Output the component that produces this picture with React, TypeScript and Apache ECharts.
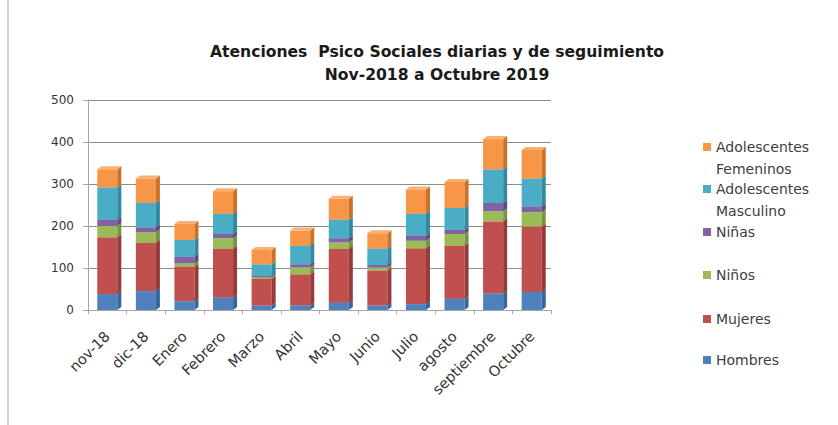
import React, { useEffect, useRef } from "react";
import * as echarts from "echarts";

const categories = ["nov-18", "dic-18", "Enero", "Febrero", "Marzo", "Abril", "Mayo", "Junio", "Julio", "agosto", "septiembre", "Octubre"];
const hombres = [38, 45, 21, 30, 11, 11, 17, 11, 14, 27, 39, 43];
const mujeres = [135, 115, 82, 116, 63, 74, 129, 83, 133, 126, 172, 156];
const ninos = [27, 25, 8, 25, 4, 16, 15, 7, 18, 28, 24, 34];
const ninas = [15, 12, 16, 10, 3, 8, 10, 6, 12, 10, 20, 14];
const adolMasc = [77, 58, 40, 48, 28, 44, 44, 39, 52, 52, 80, 66];
const adolFem = [43, 58, 38, 54, 34, 36, 50, 37, 58, 62, 72, 68];
const yTicks = [0, 100, 200, 300, 400, 500];

const seriesDefs = [
  { name: "Hombres", data: hombres, color: "#4F81BD", side: "#37659c", top: "#6f9ad0" },
  { name: "Mujeres", data: mujeres, color: "#C0504D", side: "#963b39", top: "#d2716e" },
  { name: "Niños", data: ninos, color: "#9BBB59", side: "#779442", top: "#b2cd7b" },
  { name: "Niñas", data: ninas, color: "#8064A2", side: "#5f4a7c", top: "#9a82b8" },
  { name: "Adolescentes Masculino", data: adolMasc, color: "#4BACC6", side: "#318aa2", top: "#73c2d7" },
  { name: "Adolescentes Femeninos", data: adolFem, color: "#F79646", side: "#c97228", top: "#f9b173" },
];

const FONT = "'DejaVu Sans', 'Open Sans', sans-serif";

export default function App() {
  const ref = useRef<HTMLDivElement>(null);
  useEffect(() => {
    document.body.style.margin = "0";
    const chart = echarts.init(ref.current!, null, { renderer: "svg" });
    const dx = 4;
    const dy = 3;
    const series = seriesDefs.map((s, k) => ({
      type: "custom",
      name: s.name,
      itemStyle: { color: s.color },
      encode: { x: 0, y: 1 },
      data: s.data.map((v, i) => [i, v]),
      renderItem: (params: any, api: any) => {
        const i = api.value(0);
        const v = api.value(1);
        let base = 0;
        for (let j = 0; j < k; j++) base += seriesDefs[j].data[i];
        const p0 = api.coord([i, base]);
        const p1 = api.coord([i, base + v]);
        const w = api.size([1, 0])[0] * 0.52;
        const x0 = p0[0] - w / 2;
        const x1 = x0 + w;
        const yb = p0[1];
        const yt = p1[1];
        return {
          type: "group",
          children: [
            { type: "rect", shape: { x: x0, y: yt, width: w, height: yb - yt }, style: { fill: s.color } },
            { type: "polygon", shape: { points: [[x1, yb], [x1, yt], [x1 + dx, yt - dy], [x1 + dx, yb - dy]] }, style: { fill: s.side } },
            { type: "polygon", shape: { points: [[x0, yt], [x1, yt], [x1 + dx, yt - dy], [x0 + dx, yt - dy]] }, style: { fill: s.top } },
          ],
        };
      },
    }));

    const legendTops = [147, 189, 232, 275, 319, 360];
    const legendOrder = [...seriesDefs].reverse();
    const LH = 22;
    const legends = legendOrder.map((s, idx) => {
      const twoLine = s.name.startsWith("Adolescentes");
      return {
        data: [s.name],
        orient: "vertical",
        left: 703,
        top: twoLine ? legendTops[idx] - 1.5 * LH : legendTops[idx] - LH / 2,
        itemWidth: 8,
        itemHeight: 8,
        icon: "rect",
        selectedMode: false,
        padding: 0,
        formatter: (n: string) => (n.indexOf(" ") > 0 ? "\n" + n.replace(" ", "\n") : n),
        textStyle: {
          fontFamily: FONT,
          fontSize: 14,
          color: "#404040",
          lineHeight: LH,
        },
      };
    });

    chart.setOption({
      animation: false,
      backgroundColor: "#ffffff",
      title: {
        text: "Atenciones  Psico Sociales diarias y de seguimiento\nNov-2018 a Octubre 2019",
        left: 437,
        top: 40,
        textAlign: "center",
        padding: 0,
        textStyle: { fontFamily: FONT, fontSize: 15.6, fontWeight: "bold", color: "#1a1a1a", lineHeight: 23 },
      },
      legend: legends,
      grid: { left: 88, right: 287, top: 100, bottom: 115, containLabel: false },
      xAxis: {
        type: "category",
        data: categories,
        axisLine: { lineStyle: { color: "#a6a6a6" } },
        axisTick: { show: true, length: 4, lineStyle: { color: "#a6a6a6" } },
        axisLabel: { rotate: 45, fontFamily: FONT, fontSize: 14.5, color: "#333", margin: 24, interval: 0 },
      },
      yAxis: {
        type: "value",
        min: yTicks[0],
        max: yTicks[yTicks.length - 1],
        interval: 100,
        axisLine: { show: true, lineStyle: { color: "#a6a6a6" } },
        axisTick: { show: true, length: 5, lineStyle: { color: "#a6a6a6" } },
        axisLabel: { fontFamily: FONT, fontSize: 12, color: "#333", margin: 14 },
        splitLine: { lineStyle: { color: "#8c8c8c", width: 1 } },
      },
      graphic: [
        { type: "line", shape: { x1: 8, y1: 0, x2: 8, y2: 425 }, style: { stroke: "#d0d0d0", lineWidth: 2 } },
      ],
      series,
    });
    return () => chart.dispose();
  }, []);
  return <div ref={ref} style={{ width: 838, height: 425 }} />;
}
